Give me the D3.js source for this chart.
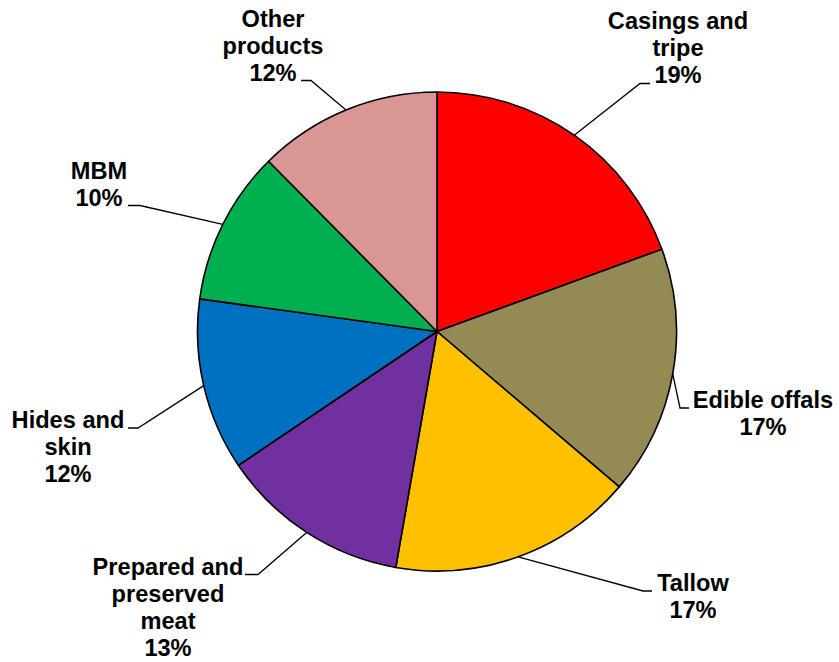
<!DOCTYPE html>
<html>
<head>
<meta charset="utf-8">
<script src="https://cdn.jsdelivr.net/npm/d3@7"></script>
<style>
  body { margin: 0; background: #fff; }
  .label { font-family: "Liberation Sans", Arial, sans-serif; font-weight: bold; font-size: 23.6px; fill: #000; }
</style>
</head>
<body>
<div id="chart"></div>
<script>
// slice shares, clockwise from 12 o'clock
var categories = ['Casings and tripe', 'Edible offals', 'Tallow', 'Prepared and preserved meat', 'Hides and skin', 'MBM', 'Other products'];
var values = [19.4, 16.8, 16.5, 12.8, 11.6, 10.4, 12.4];
var colors = ['#FF0000', '#948A54', '#FFC000', '#7030A0', '#0070C0', '#00B050', '#D99694'];

// label layout: wrapped lines, text centre / first baseline, leader elbow and end
var labelLines = [
  ['Casings and', 'tripe'],
  ['Edible offals'],
  ['Tallow'],
  ['Prepared and', 'preserved', 'meat'],
  ['Hides and', 'skin'],
  ['MBM'],
  ['Other', 'products']
];
var labelPos = [
  { x: 678, y: 29, elbow: [640, 83.5], end: [650, 83.5] },
  { x: 763, y: 408, elbow: [680, 408], end: [689, 408] },
  { x: 693, y: 591, elbow: [643, 591], end: [652, 591] },
  { x: 168, y: 575, elbow: [258, 574.5], end: [245, 574.5] },
  { x: 68, y: 428, elbow: [138, 428], end: [128, 428] },
  { x: 99, y: 179, elbow: [140, 205.5], end: [128, 205.5] },
  { x: 273, y: 27, elbow: [311, 80.5], end: [301, 80.5] }
];

var width = 839;
var height = 662;
var cx = 437, cy = 331.5, radius = 239.5;
var lineHeight = 27;

var svg = d3.select('#chart').append('svg')
  .attr('width', width)
  .attr('height', height);

var total = d3.sum(values);
var data = categories.map(function (c, i) {
  return { name: c, value: values[i], color: colors[i], lines: labelLines[i], pos: labelPos[i] };
});

var pie = d3.pie()
  .sort(null)
  .value(function (d) { return d.value; });
var arcs = pie(data);

var arc = d3.arc().innerRadius(0).outerRadius(radius);

var g = svg.append('g').attr('transform', 'translate(' + cx + ',' + cy + ')');

g.selectAll('path.slice')
  .data(arcs)
  .enter()
  .append('path')
  .attr('class', 'slice')
  .attr('d', arc)
  .attr('fill', function (d) { return d.data.color; })
  .attr('stroke', '#000')
  .attr('stroke-width', 1.6)
  .attr('stroke-linejoin', 'round');

// leader lines start on the rim at the slice mid-angle
svg.selectAll('polyline.leader')
  .data(arcs)
  .enter()
  .append('polyline')
  .attr('class', 'leader')
  .attr('points', function (d) {
    var a = (d.startAngle + d.endAngle) / 2;
    var p0 = [cx + radius * Math.sin(a), cy - radius * Math.cos(a)];
    return [p0, d.data.pos.elbow, d.data.pos.end].map(function (p) { return p.join(','); }).join(' ');
  })
  .attr('fill', 'none')
  .attr('stroke', '#000')
  .attr('stroke-width', 1.3);

var labels = svg.selectAll('text.label')
  .data(arcs)
  .enter()
  .append('text')
  .attr('class', 'label')
  .attr('text-anchor', 'middle');

labels.each(function (d) {
  var t = d3.select(this);
  var lines = d.data.lines.concat([Math.round(d.data.value / total * 100) + '%']);
  lines.forEach(function (s, i) {
    t.append('tspan')
      .attr('x', d.data.pos.x)
      .attr('y', d.data.pos.y + i * lineHeight)
      .text(s);
  });
});
</script>
</body>
</html>
